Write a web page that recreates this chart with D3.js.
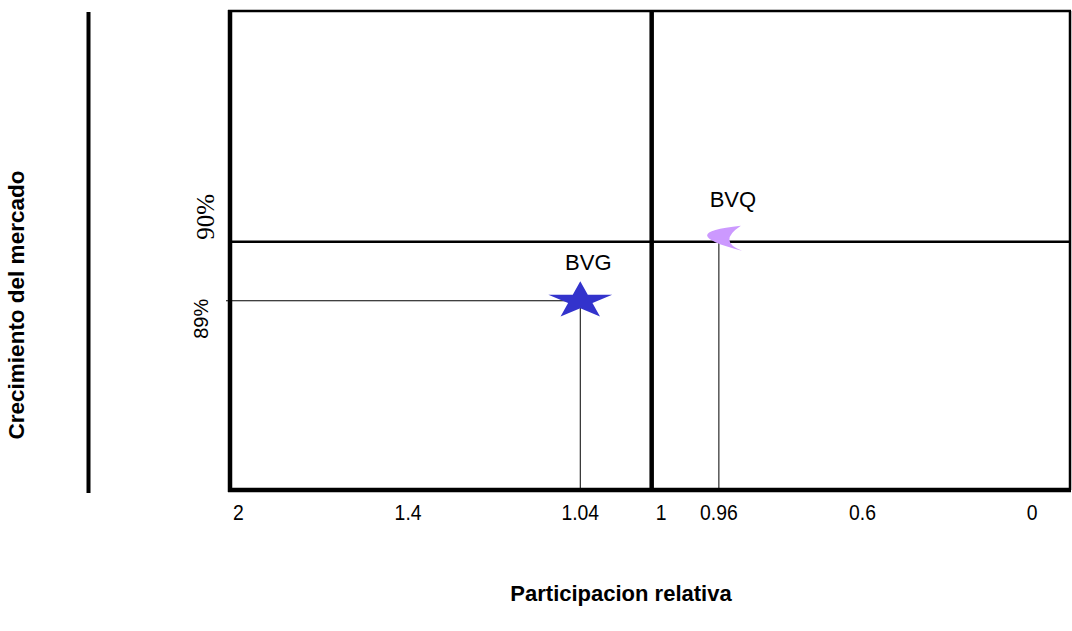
<!DOCTYPE html>
<html>
<head>
<meta charset="utf-8">
<script src="https://cdn.jsdelivr.net/npm/d3@7"></script>
<style>
  body { margin: 0; background: #fff; }
  svg text { font-family: Arial, "Liberation Sans", sans-serif; fill: #000; }
</style>
</head>
<body>
<div id="chart"></div>
<script>
(function() {
  // data
  var xTicks = [2, 1.4, 1.04, 1, 0.96, 0.6, 0];
  var yTicks = [90, 89];
  var yTickLabels = ['90%', '89%'];
  var products = ['BVG', 'BVQ'];
  var shares = [1.04, 0.96];
  var growth = [89, 90];
  var colors = ['#3333cc', '#cc99ff'];
  var xCut = 1;
  var yCut = 90;

  var width = 1072;
  var height = 631;
  var plot = { left: 230, right: 1070, top: 11, bottom: 490 };
  // where each tick value sits across the plot (share of width)
  var xStops = [0.01, 0.212, 0.417, 0.502, 0.582, 0.753, 0.955];

  var svg = d3.select('#chart').append('svg')
    .attr('width', width)
    .attr('height', height);

  var x = d3.scaleLinear()
    .domain(xTicks)
    .range(xStops.map(function(f) { return plot.left + f * (plot.right - plot.left); }));
  var y = d3.scaleLinear()
    .domain([85.8, 93.9])
    .range([plot.bottom, plot.top]);

  // guide lines from each product to the axes
  var guides = svg.append('g').attr('stroke', '#000').attr('stroke-width', 1);
  products.forEach(function(p, i) {
    var px = x(shares[i]);
    var py = y(growth[i]);
    guides.append('line')
      .attr('x1', px).attr('x2', px)
      .attr('y1', py).attr('y2', plot.bottom);
    if (growth[i] !== yCut) {
      guides.append('line')
        .attr('x1', plot.left - 4).attr('x2', px)
        .attr('y1', py).attr('y2', py);
    }
  });

  // plot frame and quadrant dividers
  var frame = svg.append('g').attr('stroke', '#000').attr('fill', 'none');
  frame.append('line').attr('x1', plot.left - 2).attr('x2', plot.right + 1)
    .attr('y1', plot.top).attr('y2', plot.top).attr('stroke-width', 2.5);
  frame.append('line').attr('x1', plot.right).attr('x2', plot.right)
    .attr('y1', plot.top).attr('y2', plot.bottom).attr('stroke-width', 2.5);
  frame.append('line').attr('x1', plot.left).attr('x2', plot.left)
    .attr('y1', plot.top - 1).attr('y2', plot.bottom + 2).attr('stroke-width', 4.5);
  frame.append('line').attr('x1', plot.left - 2).attr('x2', plot.right + 1)
    .attr('y1', plot.bottom).attr('y2', plot.bottom).attr('stroke-width', 4.5);
  frame.append('line').attr('x1', x(xCut)).attr('x2', x(xCut))
    .attr('y1', plot.top).attr('y2', plot.bottom + 2).attr('stroke-width', 4.5);
  frame.append('line').attr('x1', plot.left).attr('x2', plot.right)
    .attr('y1', y(yCut)).attr('y2', y(yCut)).attr('stroke-width', 2.5);

  // left ruler
  svg.append('line')
    .attr('x1', 88.5).attr('x2', 88.5)
    .attr('y1', 12).attr('y2', 493)
    .attr('stroke', '#000').attr('stroke-width', 4);

  // x tick labels (slightly condensed)
  svg.append('g').selectAll('text')
    .data(xTicks)
    .enter().append('text')
    .attr('transform', function(d) {
      var tx = d === xCut ? x(d) + 4 : x(d);
      return 'translate(' + tx + ',520) scale(0.88,1)';
    })
    .attr('text-anchor', function(d) { return d === xCut ? 'start' : 'middle'; })
    .attr('font-size', 22)
    .text(function(d) { return d; });

  // y tick labels (rotated)
  svg.append('g').selectAll('text')
    .data(yTicks)
    .enter().append('text')
    .attr('transform', function(d, i) {
      return 'translate(' + (i === 0 ? 214 : 208) + ',' + (y(d) - 2) + ') rotate(-90)';
    })
    .attr('text-anchor', function(d, i) { return i === 0 ? 'start' : 'end'; })
    .attr('font-size', function(d, i) { return i === 0 ? 25 : 20; })
    .style('font-family', function(d, i) { return i === 0 ? '"Liberation Serif", "Times New Roman", serif' : null; })
    .text(function(d, i) { return yTickLabels[i]; });

  // markers
  var starPath = d3.symbol().type(d3.symbolStar).size(1400)();
  svg.append('path')
    .attr('d', starPath)
    .attr('transform', 'translate(' + x(shares[0]) + ',' + y(growth[0]) + ') scale(0.95,0.55)')
    .attr('fill', colors[0]);

  var moonPath = 'M22,-16 Q-46,-9 23,9 Q-1.5,-0.5 22,-16 Z';
  svg.append('path')
    .attr('d', moonPath)
    .attr('transform', 'translate(' + x(shares[1]) + ',' + y(growth[1]) + ')')
    .attr('fill', colors[1]);

  // product labels
  svg.append('g').selectAll('text')
    .data(products)
    .enter().append('text')
    .attr('x', function(d, i) { return x(shares[i]) + (i === 0 ? 8 : 14); })
    .attr('y', function(d, i) { return y(growth[i]) - (i === 0 ? 31 : 35); })
    .attr('text-anchor', 'middle')
    .attr('font-size', 22)
    .text(function(d) { return d; });

  // axis titles
  svg.append('text')
    .attr('x', 621).attr('y', 601)
    .attr('text-anchor', 'middle')
    .attr('font-size', 22).attr('font-weight', 'bold')
    .text('Participacion relativa');
  svg.append('text')
    .attr('transform', 'translate(24,305) rotate(-90)')
    .attr('text-anchor', 'middle')
    .attr('font-size', 22.5).attr('font-weight', 'bold')
    .text('Crecimiento del mercado');
})();
</script>
</body>
</html>
